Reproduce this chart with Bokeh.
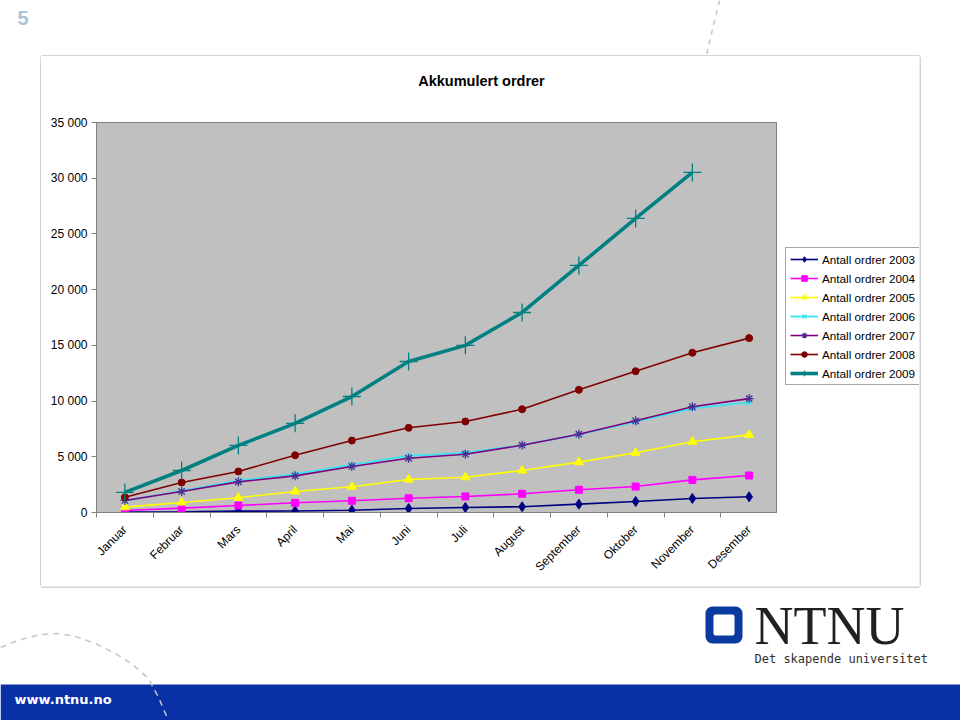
from math import pi
from bokeh.plotting import figure
from bokeh.layouts import column, row
from bokeh.models import (Range1d, LinearAxis, FixedTicker, Legend, LegendItem,
                          BoxAnnotation)
from bokeh.core.properties import value
from bokeh.embed import file_html
from bokeh.resources import INLINE

# ---------------- data ----------------
months = ["Januar", "Februar", "Mars", "April", "Mai", "Juni", "Juli",
          "August", "September", "Oktober", "November", "Desember"]
y2003 = [30, 60, 120, 130, 200, 360, 450, 520, 750, 990, 1260, 1410]
y2004 = [180, 390, 630, 870, 1050, 1280, 1440, 1680, 2040, 2330, 2930, 3320]
y2005 = [480, 900, 1320, 1890, 2310, 2960, 3170, 3770, 4520, 5360, 6350, 6970]
y2006 = [1050, 1950, 2850, 3440, 4280, 5090, 5360, 6050, 7000, 8150, 9340, 9880]
y2007 = [1080, 1890, 2750, 3290, 4130, 4870, 5230, 6040, 7030, 8230, 9490, 10220]
y2008 = [1370, 2690, 3680, 5140, 6460, 7600, 8170, 9270, 11010, 12680, 14340, 15650]
y2009 = [1800, 3770, 6020, 8000, 10410, 13550, 15000, 17950, 22170, 26390, 30520]
y_ticks = [0, 5000, 10000, 15000, 20000, 25000, 30000, 35000]
series_labels = ["Antall ordrer 2003", "Antall ordrer 2004", "Antall ordrer 2005",
                 "Antall ordrer 2006", "Antall ordrer 2007", "Antall ordrer 2008",
                 "Antall ordrer 2009"]
title_text = "Akkumulert ordrer"

FONT = "Liberation Sans"
BOX_COLOR = "#a8a8a8"
DASH_COLOR = "#c6c6c6"
BLUE = "#0a30a6"


def deco_fig(x0, x1, y0, y1):
    """Decoration figure whose data coordinates equal page pixel coordinates."""
    f = figure(width=x1 - x0, height=y1 - y0, x_range=Range1d(x0, x1),
               y_range=Range1d(y1, y0), output_backend="svg", toolbar_location=None,
               x_axis_type=None, y_axis_type=None, min_border=0)
    f.grid.visible = False
    f.outline_line_color = None
    f.background_fill_color = "white"
    f.border_fill_color = "white"
    f.frame_align = False
    return f


# ---------------- header (page y 0..56) ----------------
hdr = deco_fig(0, 960, 0, 56)
hdr.text(x=[17], y=[17], text=["5"], text_font=value(FONT), text_font_size="20px",
         text_font_style="bold", text_color="#a9c5d8", text_align="left",
         text_baseline="middle")
hdr.line([719, 706], [0, 54], line_color=DASH_COLOR, line_width=1.5, line_dash="5 5")
hdr.line([41, 919], [55.5, 55.5], line_color=BOX_COLOR, line_width=1)

# ---------------- side strips (page y 56..586) ----------------
left = deco_fig(0, 41, 56, 586)
left.line([40.5, 40.5], [56, 586], line_color=BOX_COLOR, line_width=1)
right = deco_fig(919, 960, 56, 586)
right.line([919.5, 919.5], [56, 586], line_color=BOX_COLOR, line_width=1)

# ---------------- chart title strip (page x 41..919, y 56..100) ----------------
ttl = deco_fig(41, 919, 56, 100)
ttl.text(x=[481], y=[80], text=[title_text], text_font=value(FONT),
         text_font_size="14.5px", text_font_style="bold", text_color="black",
         text_align="center", text_baseline="middle")

# ---------------- chart (page x 41..777, y 100..586) ----------------
CW, CH = 736, 486
FL, FT, FW, FH = 55, 22, 681, 390

p = figure(width=CW, height=CH, x_range=Range1d(0, 12), y_range=Range1d(0, 35000),
           output_backend="svg", toolbar_location=None, x_axis_type=None, y_axis_type=None,
           min_border_left=FL, min_border_top=FT,
           min_border_right=CW - FL - FW, min_border_bottom=CH - FT - FH)
p.frame_align = False
p.background_fill_color = "#c0c0c0"
p.border_fill_color = "white"
p.outline_line_color = "#808080"

centers = [i + 0.5 for i in range(len(months))]
bounds = [float(i) for i in range(len(months) + 1)]

xaxis = LinearAxis(ticker=FixedTicker(ticks=centers, minor_ticks=bounds))
xaxis.major_label_overrides = {c: m for c, m in zip(centers, months)}
xaxis.major_label_orientation = pi / 4
xaxis.major_tick_line_color = None
xaxis.minor_tick_out = 5
xaxis.minor_tick_in = 0
xaxis.minor_tick_line_color = "#808080"
xaxis.axis_line_color = "#808080"
xaxis.major_label_text_font = FONT
xaxis.major_label_text_font_size = "12px"
xaxis.major_label_text_color = "black"
xaxis.major_label_standoff = 9
p.add_layout(xaxis, "below")

yaxis = LinearAxis(ticker=FixedTicker(ticks=y_ticks))
yaxis.major_label_overrides = {t: f"{t:,}".replace(",", " ") for t in y_ticks}
yaxis.major_tick_out = 5
yaxis.major_tick_in = 0
yaxis.minor_tick_line_color = None
yaxis.major_tick_line_color = "#808080"
yaxis.axis_line_color = "#808080"
yaxis.major_label_text_font = FONT
yaxis.major_label_text_font_size = "12px"
yaxis.major_label_text_color = "black"
yaxis.major_label_standoff = 4
p.add_layout(yaxis, "left")

p.ygrid.ticker = FixedTicker(ticks=y_ticks)
p.ygrid.grid_line_color = "#8c8c8c"
p.xgrid.visible = False

styles = [
    (y2003, "#000080", "#000080", "diamond", 10, 1.6),
    (y2004, "#ff00ff", "#ff00ff", "square", 7, 1.6),
    (y2005, "#ffff00", "#ffff00", "triangle", 9, 1.6),
    (y2006, "#33e6f0", "#33e6f0", "x", 8, 1.8),
    (y2007, "#800080", "#4b2d95", "asterisk", 9, 1.6),
    (y2008, "#800000", "#800000", "circle", 7, 1.6),
    (y2009, "#008080", "#008080", "cross", 18, 3.6),
]

# ---------------- legend strip (page x 777..919, y 100..586) ----------------
leg = deco_fig(777, 919, 100, 586)

items = []
for (ys, lc, mc, marker, size, lw), lab in zip(styles, series_labels):
    xs = centers[:len(ys)]
    mlw = 1.3 if marker in ("x", "asterisk", "cross") else 1
    p.line(xs, ys, line_color=lc, line_width=lw)
    p.scatter(xs, ys, marker=marker, size=size, fill_color=mc, line_color=mc,
              line_width=mlw)
    # same series in the legend strip (falls outside its ranges, so only the
    # legend samples are visible there)
    lr = leg.line(xs, ys, line_color=lc, line_width=lw)
    sr = leg.scatter(xs, ys, marker=marker, size=size, fill_color=mc, line_color=mc,
                     line_width=mlw)
    items.append(LegendItem(label=lab, renderers=[lr, sr]))

legend = Legend(items=items, location=(8, 586 - 385))
legend.label_text_font = FONT
legend.label_text_font_size = "11.7px"
legend.label_text_color = "black"
legend.glyph_width = 28
legend.glyph_height = 14
legend.label_height = 14
legend.spacing = 5
legend.padding = 4
legend.margin = 0
legend.label_standoff = 4
legend.border_line_color = "#505050"
legend.background_fill_color = "white"
legend.background_fill_alpha = 1
leg.add_layout(legend)

# ---------------- footer (page y 586..720) ----------------
ftr = deco_fig(0, 960, 586, 720)
ftr.line([41, 919], [586.5, 586.5], line_color=BOX_COLOR, line_width=1)
ftr.quad(left=[0], right=[960], top=[684], bottom=[720], fill_color=BLUE, line_alpha=0)
ftr.text(x=[14], y=[699], text=["www.ntnu.no"], text_font=value("DejaVu Sans"),
         text_font_size="13px", text_font_style="bold", text_color="white",
         text_align="left", text_baseline="middle")
ftr.line([0, 20, 40, 57, 75, 95, 115, 132, 148, 158, 168],
         [647, 639, 634, 633, 636, 643, 653, 664, 678, 697, 720],
         line_color=DASH_COLOR, line_width=1.5, line_dash="6 5")
# logo
ftr.add_layout(BoxAnnotation(left=705, right=742, top=606, bottom=643,
                             fill_color="#0a3aa0", fill_alpha=1, line_alpha=0,
                             border_radius=7))
ftr.add_layout(BoxAnnotation(left=713, right=734, top=614, bottom=635,
                             fill_color="white", fill_alpha=1, line_alpha=0,
                             border_radius=2))
ftr.scatter(x=[723.5], y=[624.5], marker="circle", size=16, fill_color="#0a3aa0",
            line_alpha=0)
ftr.text(x=[754], y=[625], text=["NTNU"], text_font=value("Liberation Serif"),
         text_font_size="54px", text_color="#231f20", text_align="left",
         text_baseline="middle")
ftr.text(x=[754], y=[658], text=["Det skapende universitet"],
         text_font=value("DejaVu Sans Mono"), text_font_size="12px",
         text_color="#303030", text_align="left", text_baseline="middle")

layout = column(hdr, row(left, column(ttl, row(p, leg)), right), ftr)

open("out.html", "w").write(file_html(layout, INLINE))
